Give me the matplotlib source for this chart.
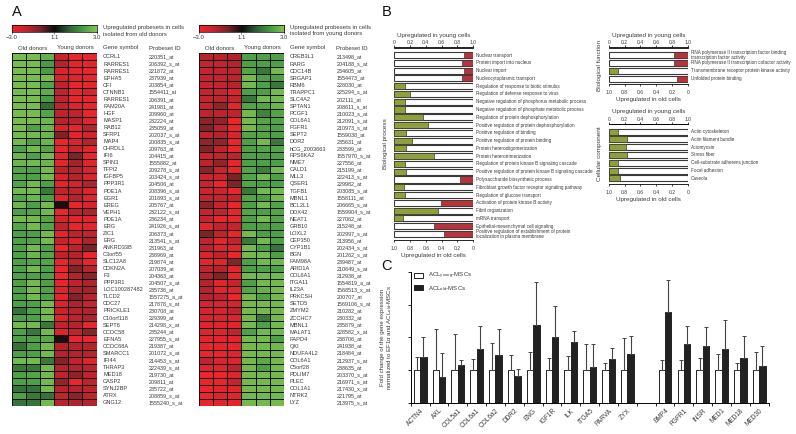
import numpy as np
import matplotlib
matplotlib.use('Agg')
import matplotlib.pyplot as plt
from matplotlib.colors import LinearSegmentedColormap

plt.rcParams['font.family']=['Liberation Sans','DejaVu Sans']
plt.rcParams['mathtext.default']='regular'

W,H=796,434

genes_up_old=['CCRL1','RARRES1','RARRES1','EPHA5','CFI','CTNNB1','RARRES1','FAM20A','HGF','MASP1',
 'RAB12','SFRP1','MAP4','CHRDL1','IFI6','SPIN3','TFPI2','IGFBP5','PPP3R1','PDE1A',
 'EGR1','EREG','VEPH1','PDE1A','ERG','ZIC1','ERG','ANKRD33B','C3orf55','SLC12A8',
 'CDKN2A','F3','PPP3R1','LOC100287482','TLCD2','CDC27','PRICKLE1','C10orf118','SEPT6','CCDC58',
 'EFNA5','CCDC68A','SMARCC1','IFI44','THRAP3','MED18','CASP2','SYNJ2BP','ATRX','GNG12']
probes_up_old=['220351_at','206392_s_at','221872_at','237939_at','203854_at','1554411_at','206391_at','241981_at','209960_at','232224_at',
 '235059_at','202037_s_at','200835_s_at','209763_at','204415_at','1555882_at','209278_s_at','203424_s_at','204506_at','208396_s_at',
 '201693_s_at','205767_at','232122_s_at','236234_at','241926_s_at','206373_at','213541_s_at','231963_at','238969_at','219874_at',
 '207039_at','204363_at','204507_s_at','235736_at','1557275_a_at','217878_s_at','230708_at','229399_at','214298_x_at','235244_at',
 '227955_s_at','219387_at','201072_s_at','214453_s_at','222439_s_at','219730_at','209811_at','235722_at','208859_s_at','1555240_s_at']
heat_up_old=[
[2.8,2.8,2.5,-2,-2.8,-2.8],[2.8,2.8,2,-1.8,-2.8,-2.8],[2.8,2.8,2,-2.5,-2.8,-2.8],[2.8,2.8,2.8,-2.5,-2.6,-2.8],
[2.8,2.8,2.2,-1.9,-2.8,-2.8],[2.8,2.8,2.4,-1.9,-2.8,-2.4],[2.8,2.8,2,-1.9,-2.8,-2.8],[2.8,2.8,1.2,-1.9,-2.6,-2.8],
[2.8,2.8,2.2,-1.9,-1.9,-2.8],[2.8,2.8,2.6,-1.8,-1.8,-2.6],[2.8,2.1,2.6,-2.5,-2.8,-1.8],[2.7,2.7,2.6,-1,-2.7,-2.3],
[2.7,2.1,2.6,-2.9,-2.5,-1.8],[2.1,2.7,2.2,-2.8,-2,-2.7],[2.6,2.1,2.7,-2.7,-1,-2.8],[2.6,2.7,2.6,-2.7,-1.6,-2.6],
[2.2,2.1,2.7,-1.9,-1.8,-2.5],[2.2,2.1,2.7,-2.5,-1.8,-2.5],[2.2,2.7,2.1,-2.7,-2.3,-1.7],[2.7,2.7,1.4,-1.9,-1.9,-2.5],
[2.2,2.6,2.1,-2.7,-1.8,-2.6],[2.6,2.1,2.7,-0.1,-2.8,-2.5],[2.1,2.2,2.7,-2.9,-1.8,-1.7],[2.7,2.7,2.2,-2.4,-2.7,-2.7],
[2.2,2.7,2.2,-1.9,-2.8,-2.7],[2.1,2.1,2.7,-2.7,-1.9,-1.9],[2.1,2.2,2.7,-2,-2.5,-1.7],[2.1,2.7,2.1,-2.9,-1.9,-1],
[2.1,2.6,2.2,-1.9,-1.8,-2.8],[2.1,2.2,2.2,-2.8,-1.9,-2.8],[2.1,2.7,2.1,-3,-1.1,-1.8],[2.1,2.1,2.1,-3,-1.8,-1.2],
[2.1,2.7,2.1,-2.8,-1.9,-1.7],[2.1,2.7,2.1,-2.6,-1.7,-1.6],[2.1,2.7,2.1,-2.7,-1.1,-1.8],[2.1,2.1,2.7,-2.5,-1.7,-2],
[1.3,2.1,2.7,-2,-1.8,-1.7],[2.1,2.1,2.7,-2.6,-1.9,-1.7],[2.7,2.7,1.4,-1.9,-1.8,-2.8],[2.1,1.4,2.7,-2.6,-1.9,-1.2],
[2.1,2.1,2.3,-0.1,-2.8,-2.9],[1.3,2.1,2.7,-1.8,-1.8,-1.8],[2.1,2.1,2.7,-1.8,-1.8,-1.8],[2.7,2.7,1.4,-1.1,-1.9,-2.6],
[1.4,1.4,2.7,-1.8,-1.8,-1.9],[2.1,2.2,2.7,-1.9,-1.2,-1.9],[2.1,2.1,2.7,-1.3,-2.9,-1.9],[1.3,1.3,2.7,-1.8,-1.8,-1.9],
[2.1,1.4,1.3,-1.9,-1.2,-1.9],[1.3,1.3,2.7,-1.8,-1.7,-1.8]]

genes_up_young=['CREB3L1','RARG','CDC14B','SRGAP1','RBM6','TRAPPC1','SLC4A2','SPTAN1','PCGF1','COL6A1',
 'FGFR1','SEPT2','DDR2','hCG_2003663','RPS6KA2','NME7','CALD1','MLL3','QSER1','TGFB1',
 'MBNL1','BCL2L1','DDX42','NEAT1','GRB10','LOXL2','CEP350','CYP1B1','BGN','FAM98A',
 'ARID1A','COL6A1','ITGA11','IL23A','PRKCSH','SETD5','ZMYM2','ZCCHC7','MBNL1','MALAT1',
 'PAPD4','QKI','NDUFA4L2','COL6A1','C5orf28','PDLIM7','PLEC','COL1A1','NTRK2','LYZ']
probes_up_young=['213498_at','204188_s_at','234605_at','1554473_at','228030_at','225294_s_at','202111_at','208611_s_at','210023_s_at','212091_s_at',
 '210973_s_at','1559038_at','235631_at','233599_at','1557970_s_at','227556_at','215199_at','222413_s_at','229982_at','203085_s_at',
 '1558111_at','206665_s_at','1559904_s_at','227062_at','215248_at','202997_s_at','213956_at','202434_s_at','201262_s_at','239487_at',
 '210649_s_at','212938_at','1554819_a_at','1568513_x_at','200707_at','1569106_s_at','210282_at','230332_at','235879_at','228582_x_at',
 '238706_at','241938_at','218484_at','212937_s_at','238635_at','203370_s_at','216971_s_at','217430_x_at','221795_at','213975_s_at']
heat_up_young=[
[-1.8,-1.8,-1.7,2.1,2.1,2.1],[-2,-2,-1.8,2.1,2.1,2.1],[-2,-1.9,-1.9,2.2,1.4,2.7],[-2,-2,-1.9,2.7,2.1,2.1],
[-2,-2,-1.8,2.7,2.1,1.4],[-2,-2,-2.6,2.1,2.1,2.7],[-2,-1.9,-2,1.4,2.7,2.7],[-2,-1.3,-2.8,2.2,2.2,2.6],
[-1.9,-1.9,-1.9,2.7,1.6,2.2],[-1.2,-1.3,-2.9,2.7,2.2,2.2],[-1.1,-1.9,-2.9,2.7,2.2,2.1],[-1.9,-1.8,-2.5,2.2,2.2,2.1],
[-1.3,-1.3,-2.9,2.1,2.7,1.4],[-1.1,-1.9,-2.8,2.1,2.2,2.2],[-2.2,-1.9,-1.9,2.1,2.1,2.1],[-1.9,-1.3,-2.8,2.1,2.1,2.1],
[-1.2,-2,-2.8,2.2,1.5,2.7],[-2.1,-2.2,-1,2.2,2.7,2.1],[-2,-2.9,-1.1,2.2,2.1,2.1],[-2.2,-2.2,-2.8,1.4,2.7,2.7],
[-2,-2,-1.9,2.2,2.1,2.7],[-1.2,-2,-2.9,2.1,2.7,2.2],[-2,-1.9,-2.8,2.2,2.1,2.2],[-2,-2.8,-2.8,2.1,2.7,2.2],
[-2.7,-1.9,-2,2.1,2.1,2.1],[-1,-1.9,-2.9,2.7,2.1,2.1],[-1.9,-2.7,-1.9,1.4,2.7,2.1],[-1.9,-2.6,-2.6,2.7,2.1,1.3],
[-2.5,-1.9,-2.9,2.7,2.7,2.1],[-2.7,-2.7,-1.1,2.1,2.7,2.7],[-1.9,-1.8,-2.7,2.1,2.1,2.1],[-1.7,-1.1,-2.8,2.7,2.7,2.7],
[-1.8,-2.7,-2,2.1,2.7,2.7],[-1.8,-2.7,-2.6,2.2,2.5,2.7],[-1.8,-1.9,-2.9,2.7,2.1,2.7],[-2.3,-2.4,-2.4,2.7,2.7,2.7],
[-2.4,-2.4,-1.9,2.7,2.7,2.7],[-2.5,-2.5,-2.6,2.7,1.4,2.7],[-2.6,-2.6,-2.7,2.7,2.1,2.7],[-2.6,-2.6,-1.9,2.1,2.7,2.7],
[-2.7,-2.7,-2.7,2.7,2.7,2.1],[-2.8,-2.8,-2.8,2.7,2.7,2.7],[-2.8,-2.8,-2.6,2.7,2.7,2.7],[-1.9,-2.5,-2.6,2.7,2.3,2.7],
[-2.6,-2.7,-1.9,2.7,2.1,2.7],[-2.9,-2.9,-2.6,2.7,2.7,2.7],[-2.9,-2.9,-2,2.7,2.7,2.7],[-2.9,-2.7,-2.7,2.7,2.7,2.7],
[-2.9,-2.6,-2.7,2.7,2.7,2.7],[-2.8,-2.6,-2.7,2.7,2.7,2.7]]

# panel B: name, fraction, which side it is drawn from
bp_terms=['Nuclear transport','Protein import into nucleus','Nuclear import','Nucleocytoplasmic transport',
 'Regulation of response to biotic stimulus','Regulation of defense response to virus',
 'Negative regulation of phosphorus metabolic process','Negative regulation of phosphate metabolic process',
 'Regulation of protein dephosphorylation','Positive regulation of protein dephosphorylation',
 'Positive regulation of binding','Positive regulation of protein binding','Protein heterooligomerization',
 'Protein heterotrimerization','Regulation of protein kinase B signaling cascade',
 'Positive regulation of protein kinase B signaling cascade','Polysaccharide biosynthetic process',
 'Fibroblast growth factor receptor signaling pathway','Regulation of glucose transport',
 'Activation of protein kinase B activity','Fibril organization','mRNA transport',
 'Epithelial-mesenchymal cell signaling',
 'Positive regulation of establishment of protein\nlocalization in plasma membrane']
bp_frac=[.12,.14,.12,.14,.13,.2,.13,.13,.36,.43,.15,.23,.15,.5,.14,.15,.17,.12,.13,.41,.56,.11,.5,.37]
bp_old=[1,1,1,1,0,0,0,0,0,0,0,0,0,0,0,0,1,0,0,1,0,0,1,1]

bf_terms=['RNA polymerase II transcription factor binding\ntranscription factor activity',
 'RNA polymerase II transcription cofactor activity','Transmembrane receptor protein kinase activity','Unfolded protein binding']
bf_frac=[.17,.18,.12,.13]
bf_old=[1,1,0,1]

cc_terms=['Actin cytoskeleton','Actin filament bundle','Actomyosin','Stress fiber','Cell-substrate adherens junction','Focal adhesion','Caveola']
cc_frac=[.11,.23,.21,.23,.11,.11,.14]
cc_old=[0,0,0,0,0,0,0]

# panel C
fold_genes=['ACTN4','AXL','COL5a1','COL6a1','COL6a2','DDR2','ENG','IGF1R','ILK','ITGA5','PARVA','ZYX','',
 'BMP4','FGFR1','INSR','MED1','MED18','MED30']
young_val=[1,1,1,1,1,1,1,1,1,1,1,1,np.nan,1,1,1,1,1,1]
young_err=[.39,1.25,1.09,.35,.82,.45,.55,.38,.42,.79,.21,.97,np.nan,.32,.32,.38,.5,.21,.57]
old_val=[1.41,.8,1.16,1.65,1.46,.81,2.39,2.02,1.85,1.1,1.33,1.48,np.nan,2.77,1.79,1.75,1.65,1.38,1.14]
old_err=[.6,.71,.15,.7,.81,.24,1.31,.95,.33,.69,.34,.55,np.nan,.98,.56,.57,.89,.65,.59]

heat_cmap=LinearSegmentedColormap.from_list('rg',[(0,'#f0242c'),(1/6,'#c4232f'),(2/6,'#7a2427'),(.5,'#0d0d0d'),
                                                   (4/6,'#2f5f34'),(5/6,'#479c45'),(1,'#84c450')])
txt='#3a3a3a'
RED='#b5333b'
GRN='#8e9f3c'

fig=plt.figure(figsize=(W/100,H/100),dpi=100)

def px_axes(x0,y0,x1,y1):
    return fig.add_axes([x0/W,1-y1/H,(x1-x0)/W,(y1-y0)/H])

def pt(x,y,s,**kw):
    kw.setdefault('fontsize',4.3)
    kw.setdefault('color',txt)
    kw.setdefault('va','center')
    fig.text(x/W,1-y/H,s,**kw)

def heatmap(x0,x1,vals,genes,probes,gx,px,head):
    cb=px_axes(x0,25,x1,32)
    cb.imshow(np.linspace(-3,3,256)[None,:],aspect='auto',cmap=heat_cmap,vmin=-3,vmax=3,extent=[-3,3,0,1])
    cb.set_yticks([])
    cb.set_xticks([-3,0,3],['\u22123.0','1.1','3.0'],fontsize=4.3,color=txt)
    cb.tick_params(length=1.5,width=.4,pad=1,color='#333333')
    for s in cb.spines.values():
        s.set_linewidth(.5)
    pt(gx,27,head[0])
    pt(gx,34,head[1])
    ax=px_axes(x0,53,x1,406)
    ax.pcolormesh(np.array(vals),cmap=heat_cmap,vmin=-3,vmax=3,edgecolors='#111111',linewidth=.55)
    ax.set_ylim(50,0)
    ax.axis('off')
    pt((x0*5+x1)/6+7,48,'Old donors',ha='center')
    pt((x0+5*x1)/6-7,48,'Young donors',ha='center')
    pt(gx,48,'Gene symbol')
    pt(px,48,'Probeset ID')
    ys=np.linspace(57,402.7,50)
    for y,g,p in zip(ys,genes,probes):
        pt(gx,y,g,fontsize=4.1)
        pt(px,y,p,fontsize=3.9)

heatmap(12,96.5,heat_up_old,genes_up_old,probes_up_old,103,149,['Upregulated probesets in cells','isolated from old donors'])
heatmap(198.5,284,heat_up_young,genes_up_young,probes_up_young,290,336.5,['Upregulated probesets in cells','isolated from young donors'])

def go_panel(x0,x1,ytop,ybot,y0,y1,terms,frac,old,side,side_x,label_x):
    ax=px_axes(x0,ytop,x1,ybot)
    n=len(terms)
    ypos=np.arange(n)
    for i in range(n):
        ax.barh(i,1,height=.78,color='white',edgecolor='#3a3a3a',linewidth=.8,zorder=2)
        if old[i]:
            ax.barh(i,frac[i],left=1-frac[i],height=.78,color=RED,edgecolor='#3a3a3a',linewidth=.5,zorder=3)
        else:
            ax.barh(i,frac[i],height=.78,color=GRN,edgecolor='#3a3a3a',linewidth=.5,zorder=3)
    # row centres are given in pixels, so pin the y range to them
    step=(y1-y0)/(n-1)
    ax.set_ylim(n-1+(ybot-y1)/step,-(y0-ytop)/step)
    ax.set_xlim(0,1)
    ax.set_yticks([])
    ax.spines[['left','right']].set_visible(False)
    for s in ['top','bottom']:
        ax.spines[s].set_linewidth(.6)
    tk=[0,.2,.4,.6,.8,1]
    ax.set_xticks(tk,['1.0','0.8','0.6','0.4','0.2','0'],fontsize=3.6,color=txt)
    ax.tick_params(axis='x',length=1.5,width=.5,pad=2.5)
    top=ax.secondary_xaxis('top')
    top.set_xticks(tk,['0','0.2','0.4','0.6','0.8','1.0'],fontsize=3.6,color=txt)
    top.tick_params(length=1.5,width=.5,pad=0)
    top.spines['top'].set_linewidth(.6)
    for t,i in zip(terms,ypos):
        pt(label_x,y0+i*step,t,fontsize=3.3,linespacing=.9)
    cx=(x0+x1)/2
    pt(cx,35 if ytop<100 else ytop-12,'Upregulated in young cells',ha='center',fontsize=4.5)
    pt(cx,ybot+16,'Upregulated in old cells',ha='center',fontsize=4.5)
    pt(side_x,(ytop+ybot)/2,side,rotation=90,ha='center',fontsize=4.6)

go_panel(394.3,473,47.5,240,55,234,bp_terms,bp_frac,bp_old,'Biological process',386,476)
go_panel(609,687.7,47.5,84,55,78.7,bf_terms,bf_frac,bf_old,'Biological function',600,691)
go_panel(609,687.7,124,184,131.7,178.3,cc_terms,cc_frac,cc_old,'Cellular component',600,691)

# bar chart
ax=px_axes(410.7,271.8,768.7,403)
centers=np.arange(19)+.5
ek=dict(ecolor='#444444',elinewidth=.8,capsize=1.6,capthick=.7,clip_on=False)
ax.bar(centers-.17,young_val,width=.34,color='white',edgecolor='#222222',linewidth=.7,
       yerr=[np.zeros(19),young_err],error_kw=ek,label='ACL$_{young}$-MSCs')
ax.bar(centers+.17,old_val,width=.34,color='#222222',edgecolor='#222222',linewidth=.7,
       yerr=[np.zeros(19),old_err],error_kw=ek,label='ACL$_{old}$-MSCs')
ax.set_xlim(0,19)
ax.set_ylim(0,4)
ax.set_yticks([0,1,2,3,4],[])
ax.set_xticks(np.arange(20),[])
ax.set_xticks(centers,fold_genes,minor=True,rotation=45,ha='right',rotation_mode='anchor',fontsize=4.7,color=txt)
ax.tick_params(axis='x',which='minor',length=0,pad=3)
ax.tick_params(axis='both',which='major',length=2.5,width=.6)
ax.spines[['top','right']].set_visible(False)
ax.spines[['left','bottom']].set_linewidth(.7)
ax.patch.set_alpha(0)
ax.legend(loc='upper left',bbox_to_anchor=(.01,1.005),frameon=False,fontsize=4.4,handlelength=1.45,handleheight=.9,
          borderpad=0,borderaxespad=0,labelspacing=.4,handletextpad=.75,labelcolor=txt)
pt(387,337,'Fold change of the gene expression\nnormalized to EF1\u03b1 and ACL$_{old}$-MSCs',rotation=90,ha='center',fontsize=4.4,linespacing=1.1)

pt(12,12,'A',fontsize=10.5,color='#111111',ha='left')
pt(381.5,12,'B',fontsize=10.5,color='#111111',ha='left')
pt(381.5,266,'C',fontsize=10.5,color='#111111',ha='left')

fig.savefig('out.png',dpi=100)
